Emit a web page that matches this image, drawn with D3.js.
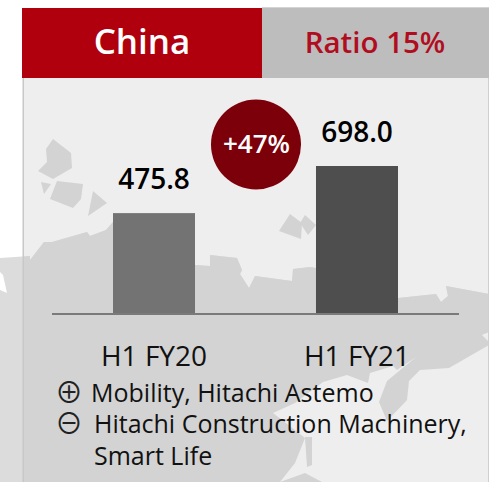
<!DOCTYPE html>
<html><head><meta charset="utf-8">
<script src="https://cdn.jsdelivr.net/npm/d3@7"></script>
<style>html,body{margin:0;padding:0;background:#fff}svg{display:block}text{font-family:"Open Sans",sans-serif}</style>
</head><body><div id="c"></div>
<script>
const categories = ["H1 FY20", "H1 FY21"];
const values = [475.8, 698.0];
const valueLabels = ["475.8", "698.0"];
const barColors = ["#737373", "#4e4e4e"];
const region = "China";
const ratio = "Ratio 15%";
const growth = "+47%";
const notes = [
  {sym:"⊕", lines:["Mobility, Hitachi Astemo"]},
  {sym:"⊖", lines:["Hitachi Construction Machinery,", "Smart Life"]}
];
// decorative map background
const land = [[0,258],[30,256],[30,260],[44,242],[52,242],[87,232],[90,236],[106,230],[113,222],[195,265],[210,266],[210,255],[237,258],[242,270],[240,274],[249,288],[255,276],[292,281],[293,269],[310,267],[316,268],[398,298],[436,294],[441,302],[448,296],[446,286],[489,294],[489,482],[0,482]];
const sea = [[416,357],[397,370],[393,366],[370,373],[368,383],[347,375],[323,382],[295,403],[273,413],[305,438],[295,463],[280,482],[489,482],[489,345],[449,368],[420,370],[409,381],[407,400],[387,421],[379,402],[387,381]];
const extras = [
 [[305,437],[307,467],[312,465],[312,437]],
 [[305,473],[280,482],[322,482]]
];
const notch = [[482,335],[489,332],[489,342]];
const lake = [[0,272],[3,275],[7,293],[0,290]];
const islands = [
 [[53,139],[71,153],[72,168],[53,179],[38,171],[47,162],[46,149]],
 [[41,182],[51,184],[44,194]],
 [[57,181],[83,184],[81,199],[73,208],[50,199]],
 [[93,191],[107,203],[88,216]],
 [[290,214],[302,223],[301,239],[279,231]],
 [[305,215],[316,225],[308,235],[300,223]]
];

const W = 489, H = 482;
const svg = d3.select("#c").append("svg").attr("width",W).attr("height",H);
const line = d3.line();

// panel
svg.append("rect").attr("x",23).attr("y",8).attr("width",466).attr("height",474).attr("fill","#eeeeee");
svg.append("clipPath").attr("id","panel").append("rect").attr("x",23).attr("y",8).attr("width",466).attr("height",474);
svg.append("path").attr("d",line(land)+"Z").attr("fill","#dcdcdc");
svg.append("path").attr("d",line(lake)+"Z").attr("fill","#ffffff");
const m = svg.append("g").attr("clip-path","url(#panel)");
m.append("path").attr("d",line(land)+"Z").attr("fill","#d3d3d3");
m.append("path").attr("d",line(sea)+"Z").attr("fill","#eeeeee");
m.append("path").attr("d",line(notch)+"Z").attr("fill","#eeeeee");
m.selectAll(".x").data(extras).join("path").attr("d",d=>line(d)+"Z").attr("fill","#d3d3d3");
m.selectAll(".i").data(islands).join("path").attr("d",d=>line(d)+"Z").attr("fill","#d3d3d3");
svg.append("rect").attr("x",22.5).attr("y",78).attr("width",1.5).attr("height",404).attr("fill","#c8c8c8");
svg.append("rect").attr("x",488).attr("y",78).attr("width",1).attr("height",404).attr("fill","#cfcfcf");

// header
svg.append("rect").attr("x",22).attr("y",8).attr("width",240).attr("height",70).attr("fill","#b0000e");
svg.append("rect").attr("x",262).attr("y",8).attr("width",227).attr("height",70).attr("fill","#bdbdbd");
svg.append("rect").attr("x",262).attr("y",7).attr("width",227).attr("height",1).attr("fill","#d4d4d4");
svg.append("text").attr("x",142).attr("y",54).attr("text-anchor","middle").attr("fill","#fff").attr("font-size",35).attr("font-weight",600).text(region);
svg.append("text").attr("x",375).attr("y",53).attr("text-anchor","middle").attr("fill","#b10d20").attr("font-size",29.5).attr("font-weight",600).text(ratio);

// scales
const x = d3.scaleBand().domain(categories).range([113,398]).paddingInner(0.596).paddingOuter(0);
const y = d3.scaleLinear().domain([0,698]).range([314,166]);

// bars
svg.selectAll(".bar").data(categories).join("rect").attr("class","bar")
  .attr("x",d=>x(d)).attr("width",x.bandwidth())
  .attr("y",(d,i)=>y(values[i])).attr("height",(d,i)=>y(0)-y(values[i]))
  .attr("fill",(d,i)=>barColors[i]);
svg.append("rect").attr("x",52).attr("y",313).attr("width",407).attr("height",2).attr("fill","#7a7a7a");

// value labels
svg.selectAll(".val").data(categories).join("text").attr("class","val")
  .attr("x",d=>x(d)+x.bandwidth()/2).attr("y",(d,i)=>y(values[i])-24)
  .attr("text-anchor","middle").attr("font-size",28).attr("font-weight",600).attr("fill","#000")
  .text((d,i)=>valueLabels[i]);

// axis labels
const axis = svg.append("g").attr("transform","translate(0,314)").call(d3.axisBottom(x).tickSize(0).tickPadding(0));
axis.select(".domain").remove();
axis.selectAll("text").attr("y",52).attr("dy",0).attr("font-size",28).attr("fill","#111").style("font-family",'"Open Sans",sans-serif');

// growth bubble
svg.append("circle").attr("cx",256).attr("cy",144.5).attr("r",45).attr("fill","#7c0009");
svg.append("text").attr("x",256.5).attr("y",153).attr("text-anchor","middle").attr("fill","#fff").attr("font-size",26).attr("font-weight",600).text(growth);

// notes
const noteX = [91,94], noteY = [402,433];
notes.forEach((n,i)=>{
  svg.append("text").attr("x",69).attr("y",noteY[i]+1).attr("text-anchor","middle").attr("font-size",28).attr("fill","#222").style("font-family",'"Noto Sans CJK JP"').text(n.sym);
  n.lines.forEach((l,j)=>{
    svg.append("text").attr("x",noteX[i]).attr("y",noteY[i]+j*32).attr("font-size",25).attr("fill","#111").text(l);
  });
});
</script></body></html>
